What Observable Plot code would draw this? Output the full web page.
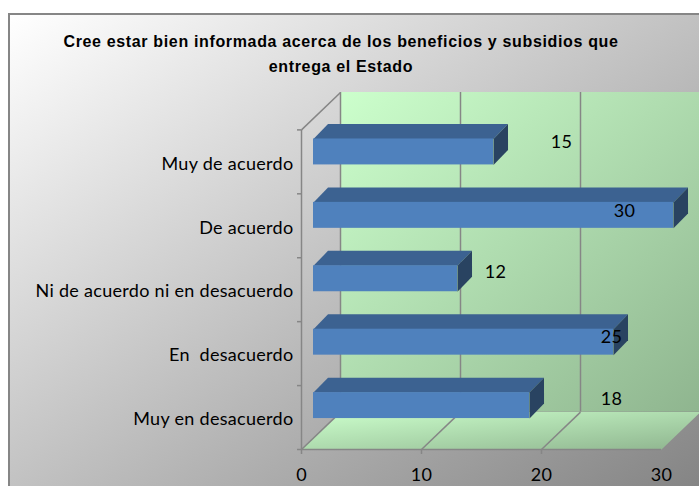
<!DOCTYPE html>
<html><head><meta charset="utf-8">
<script src="https://cdn.jsdelivr.net/npm/d3@7"></script>
<script src="https://cdn.jsdelivr.net/npm/@observablehq/plot@0.6"></script>
<style>
html,body{margin:0;padding:0;background:#fff;overflow:hidden;width:699px;height:486px}
#frame{position:absolute;left:8px;top:13px;width:720px;height:500px;box-sizing:border-box;border:2px solid #868686;background:linear-gradient(to bottom right,#fff,#7f7f7f)}
#title{position:absolute;left:9px;top:29px;width:664px;text-align:center;font:bold 16px/25px "Liberation Sans",Arial,sans-serif;letter-spacing:.65px;color:#000}
#chart{position:absolute;left:0;top:0}
#chart svg{background:transparent;white-space:pre;overflow:hidden}
#chart svg text{letter-spacing:.3px}
</style></head>
<body>
<div id="frame"></div>
<div id="title">Cree estar bien informada acerca de los beneficios y subsidios que<br>entrega el Estado</div>
<div id="chart"></div>
<script>
// bottom-to-top, as on the category axis
const categories = ["Muy en desacuerdo", "En  desacuerdo", "Ni de acuerdo ni en desacuerdo", "De acuerdo", "Muy de acuerdo"];
const values = [18, 25, 12, 30, 15];
const xTicks = [0, 10, 20, 30];
const gridValues = [0, 10, 20];
// where the source chart placed each value label (axis units)
const labelX = [25.83, 25.83, 16.17, 26.92, 21.67];
const labelY = [0.78, 1.75, 2.78, 3.72, 4.81];

const depthX = 3.25, depthY = 0.585;     // wall depth
const barStart = 1, barStep = 0.992, barLow = 0.484, barHigh = 0.89;
const faceX = 1.21, faceY = 0.234;       // bar depth
const gridColor = "#868686", font = "Lato";

const rows = categories.map((c, i) => ({
  c, v: values[i],
  x1: barStart, x2: barStart + values[i],
  y1: i * barStep + barLow, y2: i * barStep + barHigh
}));
const topFace = rows.flatMap(r => [[r.x1, r.y2], [r.x1 + faceX, r.y2 + faceY], [r.x2 + faceX, r.y2 + faceY], [r.x2, r.y2]].map(p => ({c: r.c, x: p[0], y: p[1]})));
const sideFace = rows.flatMap(r => [[r.x2, r.y1], [r.x2 + faceX, r.y1 + faceY], [r.x2 + faceX, r.y2 + faceY], [r.x2, r.y2]].map(p => ({c: r.c, x: p[0], y: p[1]})));
const floor = [[0, 0], [depthX, depthY], [30 + depthX, depthY], [30, 0]].map(p => ({x: p[0], y: p[1]}));
const xMax = 30 + depthX, yMax = 5 + depthY;

function defs() {
  const d = d3.create("svg:defs");
  const grad = (id, a, b) => {
    const g = d.append("linearGradient").attr("id", id).attr("x1", 0).attr("y1", 0).attr("x2", 1).attr("y2", 1);
    g.append("stop").attr("offset", 0).attr("stop-color", a);
    g.append("stop").attr("offset", 1).attr("stop-color", b);
  };
  grad("wallGrad", "#ccffcc", "#8fb58f");
  grad("floorGrad", "#ccffcc", "#8fb58f");
  return d.node();
}
const noLabel = () => "";

const chart = Plot.plot({
  width: 699, height: 486,
  marginTop: 92, marginBottom: 37, marginLeft: 301, marginRight: 0,
  style: {background: "transparent", fontFamily: font},
  x: {domain: [0, xMax], range: [301, 700], axis: null},
  y: {domain: [0, yMax], range: [449, 92], axis: null},
  marks: [
    defs,
    Plot.rect([0], {x1: depthX, x2: xMax, y1: depthY, y2: yMax, fill: "url(#wallGrad)"}),
    Plot.line(floor, {x: "x", y: "y", fill: "url(#floorGrad)", stroke: "none"}),
    Plot.ruleX(gridValues, {x: d => d + depthX, y1: depthY, y2: yMax, stroke: gridColor, strokeWidth: 1.5}),
    Plot.link(gridValues, {x1: d => d, y1: 0, x2: d => d + depthX, y2: depthY, stroke: gridColor, strokeWidth: 1.5}),
    Plot.link([0], {x1: 0, y1: 5, x2: depthX, y2: yMax, stroke: gridColor, strokeWidth: 1.5}),
    Plot.ruleY([0], {x1: 0, x2: 30, stroke: gridColor, strokeWidth: 1.5}),
    Plot.ruleX([0], {y1: 0, y2: 5, stroke: gridColor, strokeWidth: 1.5}),
    Plot.axisY(d3.range(0, 6), {tickSize: 4, tickFormat: noLabel, stroke: gridColor, strokeWidth: 1.5, label: null}),
    Plot.axisX(gridValues, {tickSize: 5, tickFormat: noLabel, stroke: gridColor, strokeWidth: 1.5, label: null}),
    Plot.axisX(xTicks, {tickSize: 0, tickPadding: 19, fontSize: 18, fill: "#000", fontFamily: font, label: null}),
    Plot.axisY(categories.map((_, i) => i + 0.5), {tickSize: 0, tickPadding: 8, dy: 2, fontSize: 18, fill: "#000", fontFamily: font, label: null, tickFormat: d => categories[Math.floor(d)]}),
    Plot.line(topFace, {x: "x", y: "y", z: "c", fill: "#3c6291", stroke: "none"}),
    Plot.line(sideFace, {x: "x", y: "y", z: "c", fill: "#294361", stroke: "none"}),
    Plot.rect(rows, {x1: "x1", x2: "x2", y1: "y1", y2: "y2", fill: "#4f81bd"}),
    Plot.text(values, {x: (d, i) => labelX[i], y: (d, i) => labelY[i], text: d => String(d), fontSize: 18, fill: "#000", fontFamily: font})
  ]
});
document.getElementById("chart").append(chart);
</script>
</body></html>
